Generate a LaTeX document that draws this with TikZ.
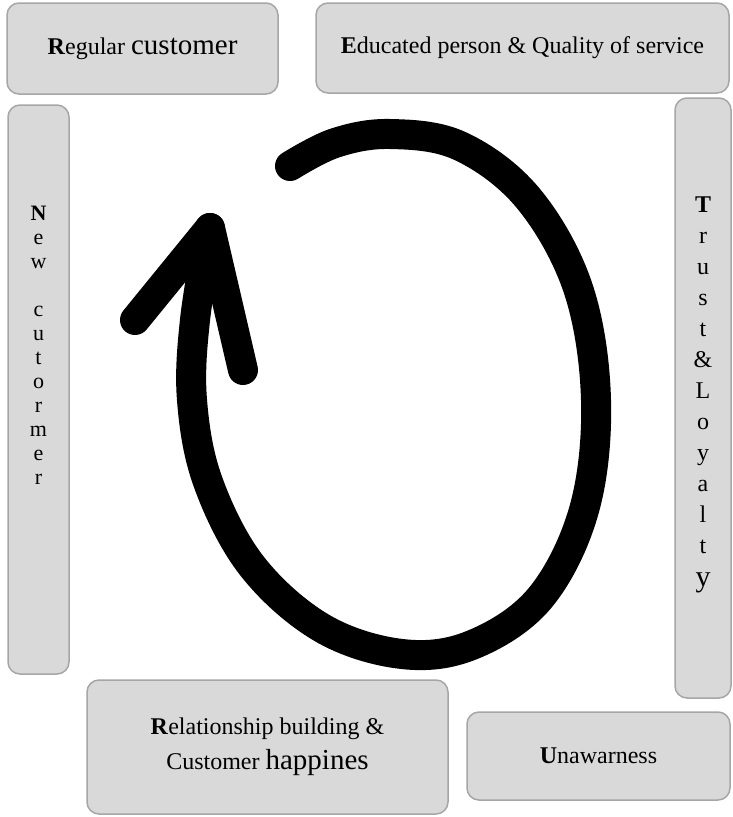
\documentclass[tikz,border=0pt]{standalone}
\usepackage{fontspec}
\setmainfont{Liberation Serif}
\usetikzlibrary{positioning}
\definecolor{boxfill}{HTML}{D9D9D9}
\definecolor{boxline}{HTML}{A6A6A6}
\tikzset{
  card/.style={draw=boxline, fill=boxfill, line width=1.5pt, rounded corners=12pt, inner sep=0pt},
  txt/.style={font=\fontsize{24}{35}\selectfont, align=center},
  vtxt/.style={font=\fontsize{24}{31}\selectfont, align=center, inner sep=0pt},
  loopline/.style={line width=30pt, line cap=round, line join=round},
}
\begin{document}
\begin{tikzpicture}[x=1pt,y=-1pt]
\useasboundingbox (0,0) rectangle (732,817);
% top row
\node[card, txt, minimum width=271pt, minimum height=91pt] (regular) at (142.5,48.5)
  {\textbf{R}egular {\fontsize{29}{35}\selectfont customer}};
\node[card, txt, minimum width=413pt, minimum height=90pt] (educated) at (522.5,48)
  {\textbf{E}ducated person \& Quality of service};
% side bars
\node[card, minimum width=61pt, minimum height=569pt] (newcust) at (38.5,389.5) {};
\node[vtxt, font=\fontsize{22}{24}\selectfont, below=102pt of newcust.north] (newtext)
  {\textbf{N}\\e\\w\\[24pt]c\\u\\t\\o\\r\\m\\e\\r};
\node[card, minimum width=56pt, minimum height=600pt] (trust) at (703,398) {};
\node[vtxt, below=99pt of trust.north] (trusttext)
  {\textbf{T}\\r\\u\\s\\t\\\&\\L\\o\\y\\a\\l\\t\\[2pt]{\fontsize{30}{31}\selectfont y}};
% bottom row
\node[card, txt, minimum width=361pt, minimum height=134pt] (relation) at (267.5,747)
  {\textbf{R}elationship building \&\\Customer {\fontsize{29}{35}\selectfont happines}};
\node[card, txt, minimum width=263pt, minimum height=88pt] (unaware) at (598.5,756)
  {\textbf{U}nawarness};
% the loop
\coordinate (tip) at (210,228);
\draw[loopline] plot[smooth, tension=0.6] coordinates {(290,166) (335,143) (390,134)
  (460,146) (528,198) (578,288) (596,400) (584,510) (540,598) (472,645) (402,654)
  (322,628) (252,566) (208,482) (192,400) (195,320) (tip)};
\draw[loopline] (135,320) -- (tip) -- (243,370);
\end{tikzpicture}
\end{document}
